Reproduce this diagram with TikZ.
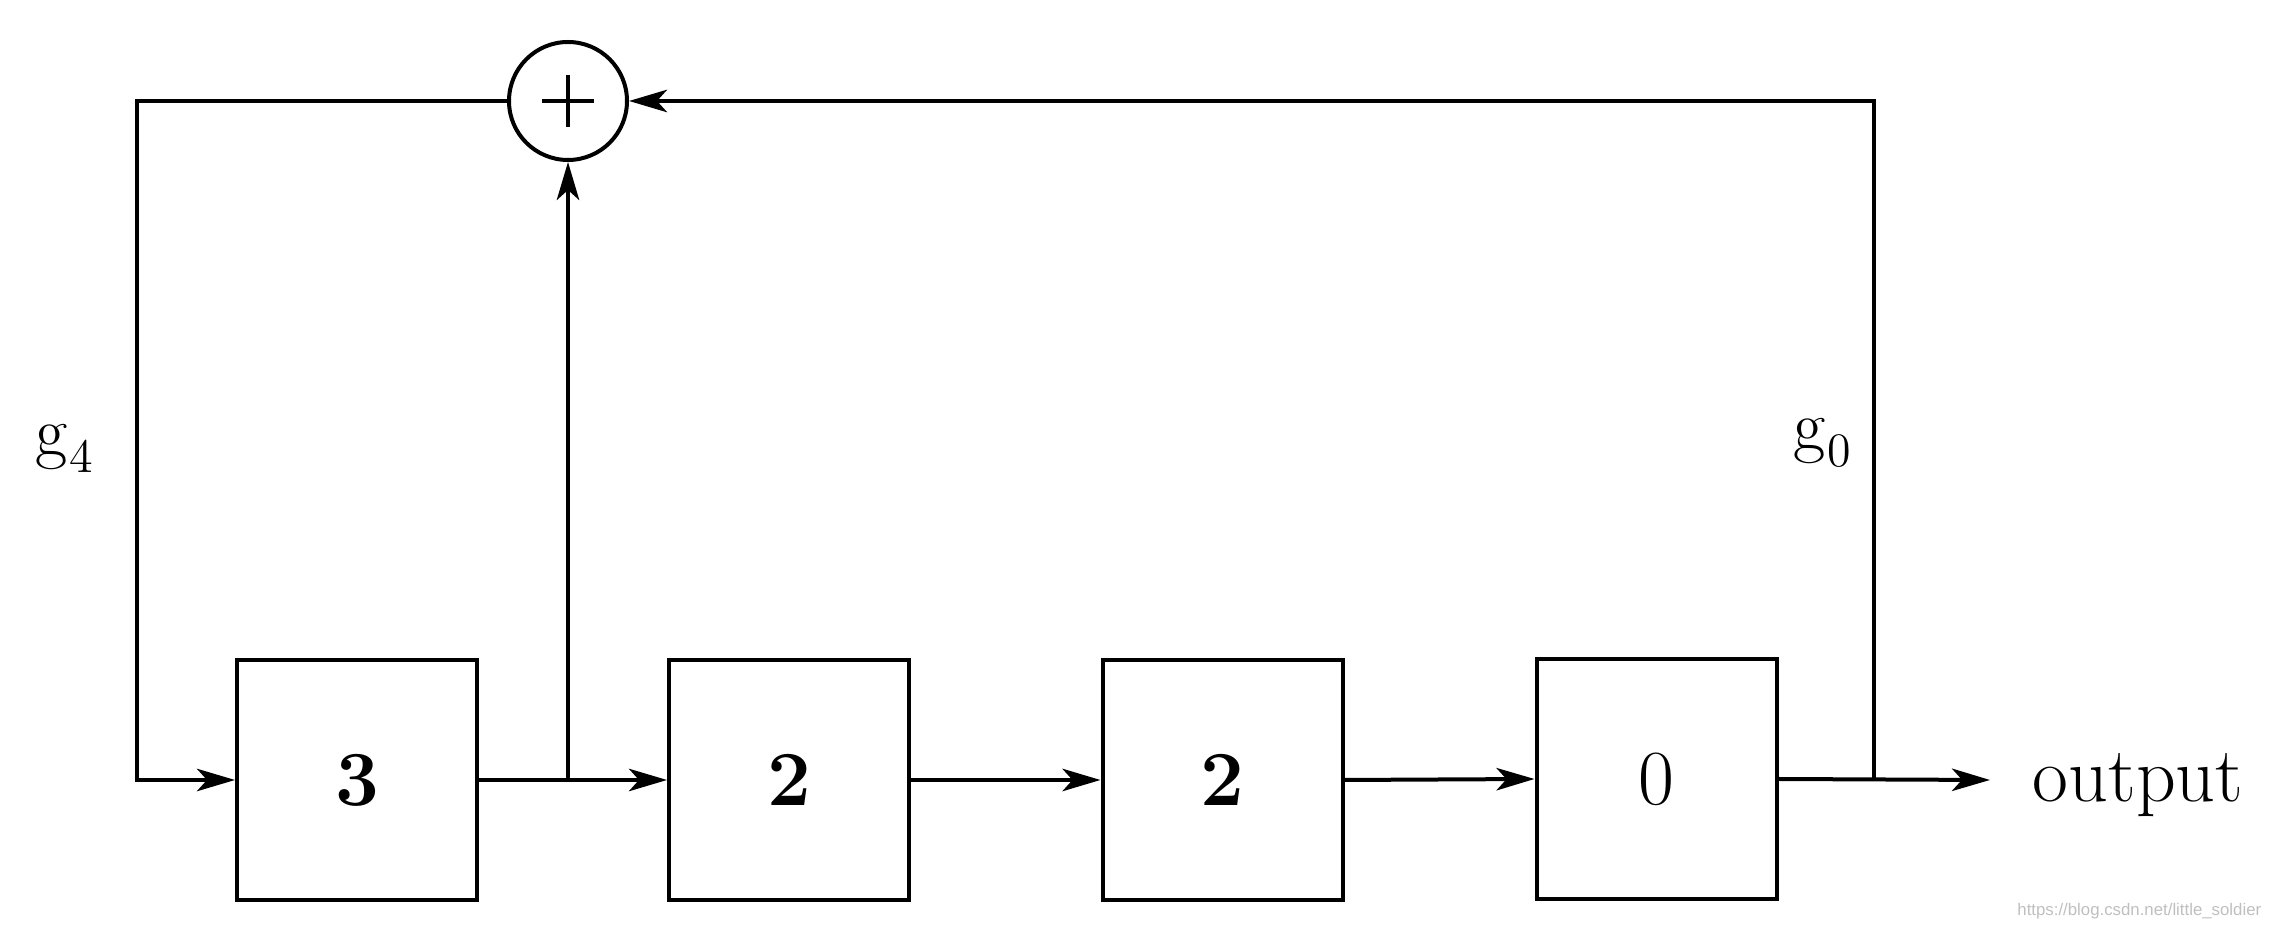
\documentclass[tikz,border=0pt]{standalone}
\usepackage{fontspec}
\newfontfamily\wmfont{Liberation Sans}
\usetikzlibrary{arrows.meta}
\begin{document}
\begin{tikzpicture}[x=0.25pt,y=-0.25pt,
  ln/.style={line width=1pt},
  arr/.style={line width=1pt,-{Stealth[length=9.5pt,width=5.6pt,inset=2.5pt]}},
  reg/.style={draw,line width=1pt,minimum width=60pt,minimum height=60pt,inner sep=0pt,font=\fontsize{19.5}{22}\selectfont},
  adder/.style={draw,circle,line width=1pt,minimum size=29.5pt,inner sep=0pt},
  plus/.style={line width=0.8pt},
  lbl/.style={inner sep=0pt,font=\fontsize{17.5}{20}\selectfont},
  outlbl/.style={inner sep=0pt,font=\fontsize{19.5}{22}\selectfont},
  wm/.style={inner sep=0pt,text=black!25,font=\wmfont\fontsize{4.2}{5}\selectfont}]
\useasboundingbox (0,0) rectangle (2284,928);

\node[reg] (b1) at (357,780) {\textbf{3}};
\node[reg] (b2) at (789,780) {\textbf{2}};
\node[reg] (b3) at (1222.5,780) {\textbf{2}};
\node[reg] (b4) at (1656.5,779) {0};
\node[adder] (sum) at (568,101) {};
\draw[plus] ([xshift=-6.5pt]sum.center) -- ([xshift=6.5pt]sum.center);
\draw[plus] ([yshift=-6.5pt]sum.center) -- ([yshift=6.5pt]sum.center);

\coordinate (tl) at (137,101);
\coordinate (bl) at (137,780);
\coordinate (branch) at (568,780);
\coordinate (tr) at (1874,101);
\coordinate (br) at (1874,780);
\coordinate (out) at (1990,780);

\draw[arr] (sum.west) -- (tl) -- (bl) -- (b1.west);
\draw[arr] (b1.east) -- (b2.west);
\draw[arr] (branch) -- (sum.south);
\draw[arr] (b2.east) -- (b3.west);
\draw[arr] (b3.east) -- (b4.west);
\draw[arr] (b4.east) -- (out);
\draw[arr] (br) -- (tr) -- (sum.east);

\node[lbl,anchor=base west] (g4) at (35,456) {g\kern0.5pt\raisebox{-4.2pt}{\fontsize{12}{14}\selectfont 4}};
\node[lbl,anchor=base west] (g0) at (1793,450) {g\kern0.5pt\raisebox{-4.2pt}{\fontsize{12}{14}\selectfont 0}};
\node[outlbl,anchor=base west] (outtxt) at (2032,802) {output};
\node[wm,anchor=base east] (wmark) at (2262,916) {https://blog.csdn.net/little\_soldier};
\end{tikzpicture}
\end{document}
